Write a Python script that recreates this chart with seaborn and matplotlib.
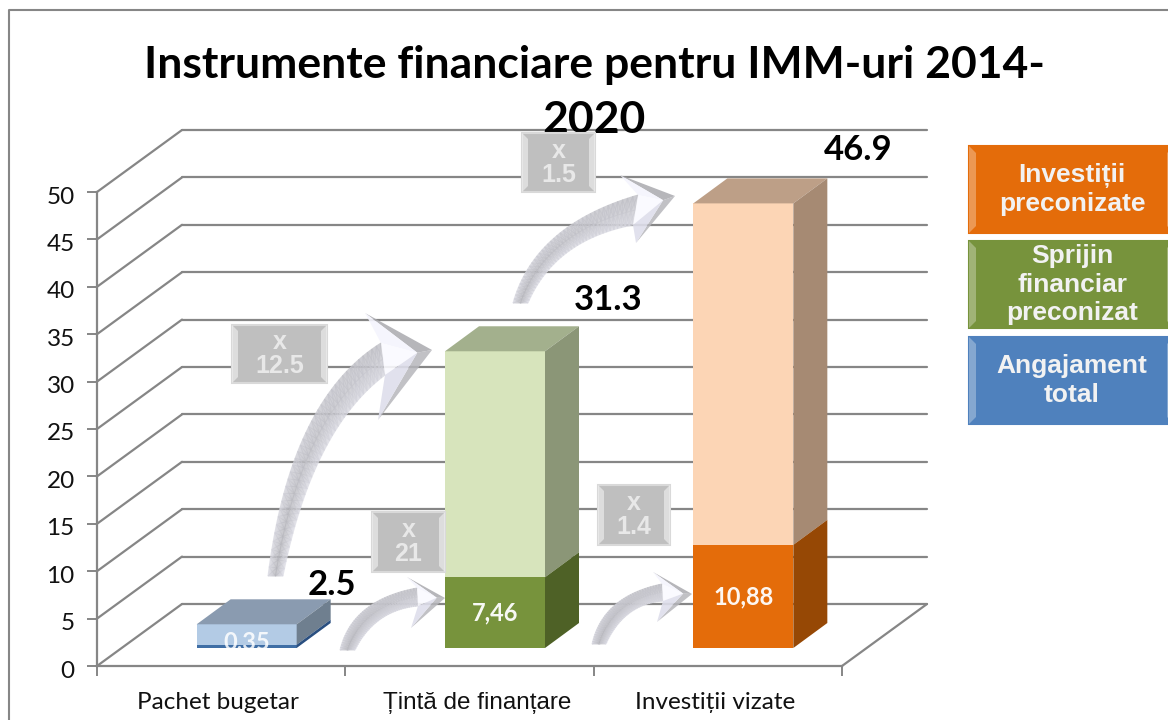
import numpy as np
import seaborn as sns
import matplotlib.pyplot as plt
from matplotlib.colors import LinearSegmentedColormap
from matplotlib.patches import Polygon, Rectangle
from matplotlib.transforms import ScaledTranslation

# values
categories = ['Pachet bugetar', 'Țintă de finanțare', 'Investiții vizate']
totals = [2.5, 31.3, 46.9]
parts = [0.35, 7.46, 10.88]
total_labels = ['2.5', '31.3', '46.9']
y_ticks = [0, 5, 10, 15, 20, 25, 30, 35, 40, 45, 50]

light_colors = ['#b3cbe5', '#d7e4bc', '#fcd5b5']
dark_colors = ['#3f6ea5', '#77933c', '#e46c0a']
top_colors = ['#8a9bb0', '#a3b08d', '#bd9f87']
side_light_colors = ['#6f7f8f', '#8b9677', '#a68a73']
side_dark_colors = ['#2a4f80', '#4e6126', '#964805']

legend_labels = ['Investiții\npreconizate', 'Sprijin\nfinanciar\npreconizat', 'Angajament\ntotal']
legend_colors = ['#e46c0a', '#77933c', '#4f81bd']
legend_tops = [146, 241, 337]

badge_labels = ['x\n12.5', 'x\n21', 'x\n1.4', 'x\n1.5']
badge_boxes = [(232, 325, 95, 58), (372, 512, 73, 60), (598, 485, 72, 60), (522, 133, 73, 59)]

W, H = 1168, 720
GRID = '#868686'

sns.set_theme(style='white')
plt.rcParams['font.family'] = ['Lato', 'DejaVu Sans']

fig = plt.figure(figsize=(W / 100, H / 100), dpi=100)


def px_axes(left, right, top, bottom):
    return fig.add_axes([left / W, 1 - bottom / H, (right - left) / W, (bottom - top) / H])


# front plane of the 3d box
ax = px_axes(97, 842, 192, 666)
ax.patch.set_alpha(0)
ax.set_xlim(-0.5, 2.5)
ax.set_ylim(0, 50)
unit_x = 745 / 3
unit_y = 474 / 50
wall_dx = 85 / unit_x
wall_dy = 62 / unit_y

for v in y_ticks:
    ax.plot([-0.5, -0.5 + wall_dx], [v, v + wall_dy], color=GRID, lw=1.6, clip_on=False)
    ax.plot([-0.5 + wall_dx, 2.5 + wall_dx], [v + wall_dy, v + wall_dy], color=GRID, lw=1.6, clip_on=False)
ax.plot([2.5, 2.5 + wall_dx], [0, wall_dy], color=GRID, lw=1.6, clip_on=False)

sns.despine(ax=ax)
for s in ['left', 'bottom']:
    ax.spines[s].set_color(GRID)
    ax.spines[s].set_linewidth(1.6)
ax.set_yticks(y_ticks)
ax.set_xticks([-0.012, 1.03, 1.99])
ax.set_xticklabels(categories)
ax.set_xticks([-0.5, 0.5, 1.5, 2.5], minor=True)
ax.tick_params(axis='y', length=7, width=1.4, color=GRID, labelsize=17.5, labelcolor='#111111', pad=9, left=True)
ax.tick_params(axis='x', which='major', length=0, labelsize=17.5, labelcolor='#111111', pad=19)
ax.tick_params(axis='x', which='minor', length=7, width=1.4, color=GRID, bottom=True)
mid = ax.get_xticklabels()[1]
mid.set_fontfamily('Liberation Sans')
mid.set_fontsize(17.5)
for lab in ax.get_yticklabels():
    lab.set_transform(lab.get_transform() + ScaledTranslation(0, -3 / 100, fig.dpi_scale_trans))

# bars sit a little inside the floor
ax_b = px_axes(97 + 25.5, 842 + 25.5, 192 - 18, 666 - 18)
ax_b.patch.set_alpha(0)
bar_w = 100 / unit_x
sns.barplot(x=categories, y=totals, hue=categories, palette=light_colors, legend=False,
            saturation=1, width=bar_w, linewidth=0, ax=ax_b)
sns.barplot(x=categories, y=parts, hue=categories, palette=dark_colors, legend=False,
            saturation=1, width=bar_w, linewidth=0, ax=ax_b)
ax_b.set_xlim(-0.5, 2.5)
ax_b.set_ylim(0, 50)
ax_b.axis('off')

depth_x = 34 / unit_x
depth_y = 25 / unit_y
for i, (t, p) in enumerate(zip(totals, parts)):
    l, r = i - bar_w / 2, i + bar_w / 2
    ax_b.add_patch(Polygon([(l, t), (r, t), (r + depth_x, t + depth_y), (l + depth_x, t + depth_y)],
                           fc=top_colors[i], ec='none', clip_on=False))
    ax_b.add_patch(Polygon([(r, p), (r, t), (r + depth_x, t + depth_y), (r + depth_x, p + depth_y)],
                           fc=side_light_colors[i], ec='none', clip_on=False))
    ax_b.add_patch(Polygon([(r, 0), (r, p), (r + depth_x, p + depth_y), (r + depth_x, depth_y)],
                           fc=side_dark_colors[i], ec='none', clip_on=False))

# labels
total_offsets = [(85, 39), (113, 51), (115, 53)]
for i, t in enumerate(totals):
    off = total_offsets[i]
    ax_b.annotate(total_labels[i], (i, t), xytext=(off[0] * 0.72, off[1] * 0.72), textcoords='offset points',
                  ha='center', va='center', fontsize=25, fontweight='bold', color='black',
                  annotation_clip=False, zorder=20)
part_offsets = [3, 0, 0]
for i, p in enumerate(parts):
    ax_b.annotate(f'{p:g}'.replace('.', ','), (i, p / 2), xytext=(0, part_offsets[i]), textcoords='offset points',
                  ha='center', va='center', fontsize=17, fontweight='bold', color='white',
                  alpha=0.95 if i else 0.85, annotation_clip=False, zorder=20)

# overlay in pixel coordinates for frame, title, arrows, boxes
ov = fig.add_axes([0, 0, 1, 1])
ov.set_xlim(0, W)
ov.set_ylim(H, 0)
ov.axis('off')

ov.plot([9, 9, W], [H, 10, 10], color=GRID, lw=1.5)
ov.text(594, 65, 'Instrumente financiare pentru IMM-uri 2014-', ha='center', va='center',
        fontsize=32, fontweight='bold', color='black')
ov.text(594, 120, '2020', ha='center', va='center', fontsize=32, fontweight='bold', color='black')

arrow_cmap = LinearSegmentedColormap.from_list('arrow', ['#9c9ca0', '#f0f0fa'])


def bez(p0, c, p1, n=40):
    t = np.linspace(0, 1, n)[:, None]
    return (1 - t) ** 2 * np.array(p0) + 2 * t * (1 - t) * np.array(c) + t ** 2 * np.array(p1)


def block_arrow(up, lo, barb_top, tip, barb_bot):
    # up / lo = (tail, control, neck) for the two edges of the shaft
    a = bez(*up)
    b = bez(*lo)
    fr = np.array([0, 0.5, 1])[:, None, None]
    grid = a[None, :, :] + (b - a)[None, :, :] * fr
    along = np.linspace(0, 1, len(a))
    # lighter on the outer edge near the tail, darker towards the head
    shade = np.vstack([0.75 - 0.35 * along, 0.3 + 0.25 * along, 0.8 - 0.1 * along])
    ov.pcolormesh(grid[:, :, 0], grid[:, :, 1], shade, cmap=arrow_cmap, vmin=0, vmax=1,
                  shading='gouraud', alpha=0.8)
    neck_u, neck_l = np.array(up[2]), np.array(lo[2])
    tip = np.array(tip)
    barb_top, barb_bot = np.array(barb_top), np.array(barb_bot)
    core = (neck_u + neck_l) / 2 + (tip - (neck_u + neck_l) / 2) * 0.7
    ov.add_patch(Polygon([barb_top, tip, core], fc='#a9a9ae', ec='none', alpha=0.85))
    ov.add_patch(Polygon([barb_bot, tip, core], fc='#b6b6bb', ec='none', alpha=0.85))
    ov.add_patch(Polygon([barb_top, neck_u, core], fc='#f4f4fd', ec='none', alpha=0.9))
    ov.add_patch(Polygon([neck_u, neck_l, core], fc='#fafaff', ec='none', alpha=0.9))
    ov.add_patch(Polygon([barb_bot, neck_l, core], fc='#dedeeb', ec='none', alpha=0.9))


block_arrow(((268, 576), (290, 400), (381, 343)), ((283, 576), (312, 430), (385, 375)),
            (365, 313), (432, 350), (378, 420))
block_arrow(((340, 650), (352, 600), (417, 588)), ((355, 650), (375, 610), (418, 606)),
            (407, 577), (445, 598), (411, 628))
block_arrow(((592, 644), (603, 596), (662, 584)), ((606, 644), (624, 604), (663, 601)),
            (653, 572), (692, 594), (657, 622))
block_arrow(((513, 303), (535, 225), (638, 195)), ((528, 303), (555, 240), (633, 225)),
            (620, 175), (675, 196), (636, 243))


def bevel_box(x, y, w, h, color, edge, bevel, inset, bevel_alpha):
    ov.add_patch(Rectangle((x, y), w, h, fc=color, ec=edge, lw=1.5, zorder=5))
    ov.add_patch(Polygon([(x, y), (x + inset, y + inset), (x + inset, y + h - inset), (x, y + h)],
                         fc=bevel, ec='none', alpha=bevel_alpha, zorder=5))
    ov.add_patch(Polygon([(x + w, y), (x + w - inset, y + inset), (x + w - inset, y + h - inset), (x + w, y + h)],
                         fc=bevel, ec='none', alpha=bevel_alpha, zorder=5))


for (x, y, w, h), lab in zip(badge_boxes, badge_labels):
    bevel_box(x, y, w, h, '#bfbfbf', '#d9d9d9', '#f2f2f2', 6, 0.6)
    ov.text(x + w / 2, y + h / 2, lab, ha='center', va='center', color='#e8e8e8', fontsize=18,
            fontweight='bold', family='Liberation Sans', linespacing=1.0, zorder=6)

for top, col, lab in zip(legend_tops, legend_colors, legend_labels):
    bevel_box(969, top, 205, 87, col, col, '#ffffff', 7, 0.3)
    ov.text(1072, top + 43.5, lab, ha='center', va='center', color='#f2f2f2', fontsize=19,
            fontweight='bold', family='Liberation Sans', linespacing=1.22, zorder=6)

fig.savefig('out.png', dpi=100)
